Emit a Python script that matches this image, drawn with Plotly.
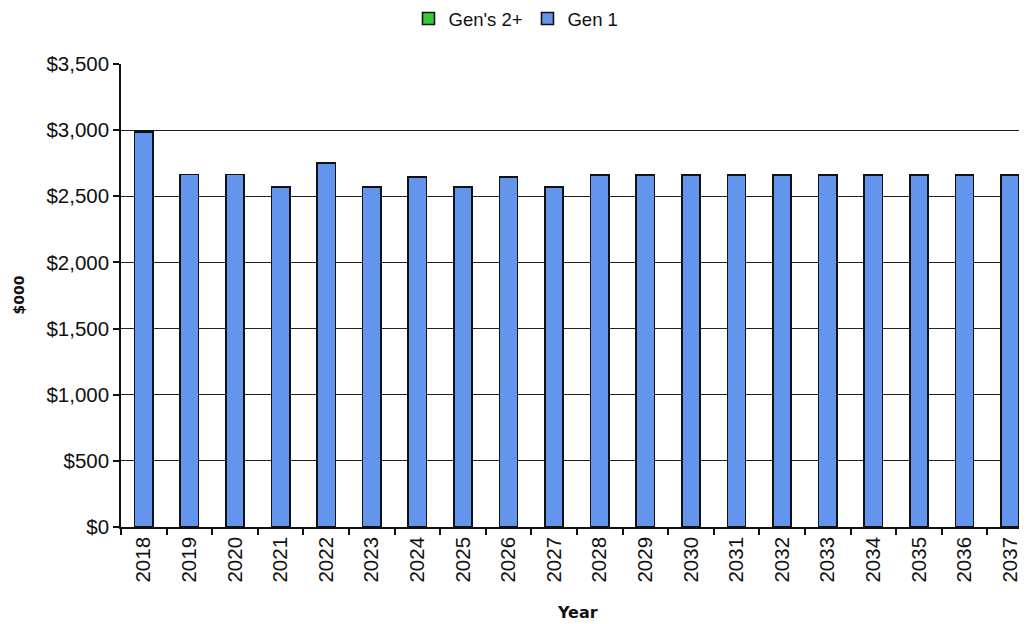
import plotly.graph_objects as go

years = [str(y) for y in range(2018, 2038)]
gen1 = [2985, 2665, 2665, 2570, 2750, 2570, 2645, 2570, 2645, 2570,
        2660, 2660, 2660, 2660, 2660, 2660, 2660, 2660, 2660, 2660]
gen2plus = [8, 0, 0, 0, 0, 0, 0, 0, 0, 0,
            0, 0, 0, 0, 0, 0, 0, 0, 0, 0]
y_ticks = [0, 500, 1000, 1500, 2000, 2500, 3000, 3500]
y_labels = ["$0", "$500", "$1,000", "$1,500", "$2,000", "$2,500", "$3,000", "$3,500"]

tick_font = dict(family="Liberation Sans, Arial, sans-serif", size=20.5, color="#111")

fig = go.Figure()
fig.add_trace(go.Bar(x=years, y=gen1, name="Gen 1",
                     marker=dict(color="#6495ED", line=dict(color="#111", width=1.6))))
fig.add_trace(go.Bar(x=years, y=gen2plus, name="Gen's 2+",
                     marker=dict(color="#32CD32", line=dict(color="#111", width=1.6))))

# page has an 8px body margin, so the figure is drawn at (8, 8) in the window
OFF = 8
W, H = 1027 - OFF, 624 - OFF
L, R, T = 121 - OFF, 0, 64 - OFF
B = H - (527 - OFF)
plot_w = W - L - R
plot_h = H - T - B

def px_x(xw):
    return (xw - OFF - L) / plot_w

def px_y(yw):
    return ((H - B) - (yw - OFF)) / plot_h

fig.update_layout(
    width=W, height=H,
    paper_bgcolor="white", plot_bgcolor="white",
    barmode="stack", bargap=0.6,
    margin=dict(l=L, r=R, t=T, b=B, autoexpand=False),
    showlegend=True,
    legend=dict(orientation="h", x=(516 - OFF) / W, xref="container", xanchor="center",
                y=1 - (19 - OFF) / H, yref="container", yanchor="middle",
                traceorder="reversed",
                font=dict(family="Liberation Sans, Arial, sans-serif", size=18.5, color="#111"),
                itemwidth=30),
    xaxis=dict(type="category", range=[-0.5, 19.37], showline=True, linecolor="#111",
               linewidth=1.5, ticks="outside", tickson="boundaries", ticklen=6,
               tickcolor="#111", tickwidth=1.5, tickangle=-90, tickfont=tick_font,
               showgrid=False, automargin=False),
    yaxis=dict(range=[0, 3500], tickvals=y_ticks, ticktext=y_labels, showline=True,
               linecolor="#111", linewidth=1.5, ticks="outside", ticklen=6,
               tickcolor="#111", tickwidth=1.5, tickfont=tick_font, showgrid=True,
               gridcolor="#222", gridwidth=1, zeroline=False, automargin=False),
    annotations=[
        dict(text="<b>$000</b>", x=px_x(18), xref="paper", xanchor="center",
             y=0.5, yref="paper", yanchor="middle", textangle=-90, showarrow=False,
             font=dict(family="DejaVu Sans, sans-serif", size=14, color="#111")),
        dict(text="<b>Year</b>", x=px_x(577), xref="paper", xanchor="center",
             y=px_y(612), yref="paper", yanchor="middle", showarrow=False,
             font=dict(family="DejaVu Sans, sans-serif", size=16, color="#111")),
    ],
)

fig.write_html("out.html")
